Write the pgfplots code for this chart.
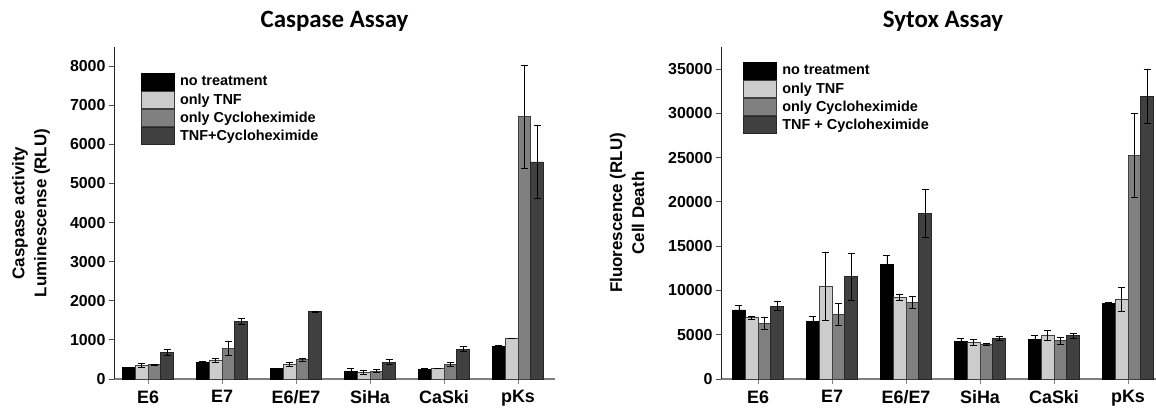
\documentclass[border=0pt]{standalone}
\usepackage{fontspec}
\setmainfont{Liberation Sans}
\newfontfamily\titlefont{Carlito}
\usepackage{pgfplots}
\pgfplotsset{compat=1.18}
\definecolor{cA}{HTML}{000000}
\definecolor{cB}{HTML}{CCCCCC}
\definecolor{cC}{HTML}{808080}
\definecolor{cD}{HTML}{404040}
\pgfplotsset{
 eb/.style={error bars/.cd, y dir=both, y explicit,
   error bar style={black, line width=0.7bp},
   error mark options={rotate=90, mark size=3.5bp, black, line width=0.7bp}},
 mybars/.style={
  scale only axis, height=332bp, anchor=south west,
  axis lines=left, axis line style={-},
  x axis line style={draw=black!50, line width=1.3bp},
  y axis line style={draw=black!85, line width=0.8bp},
  ybar=0pt, bar width=12.7bp,
  ymin=0, scaled y ticks=false,
  xtick={0,...,5}, xticklabels={E6,E7,E6/E7,SiHa,CaSki,pKs},
  tick align=outside, major tick length=5bp,
  x tick style={draw=black!50, line width=1bp},
  y tick style={draw=black!70, line width=0.8bp},
  xticklabel style={font=\fontsize{18}{20}\selectfont\bfseries, yshift=-3bp},
  yticklabel style={font=\fontsize{16}{18}\selectfont\bfseries},
  /pgf/number format/assume math mode=true,
  /pgf/number format/set thousands separator={},
  title style={font=\fontsize{25}{28}\selectfont\titlefont\bfseries, at={(0.5,1)}, anchor=base, yshift=14bp},
  ylabel style={font=\fontsize{17}{22}\selectfont\bfseries, align=center, anchor=center},
  legend style={draw=none, fill=none, inner sep=0pt, outer sep=0pt, anchor=north west,
    font=\fontsize{14.5}{16}\selectfont\bfseries, row sep=0.5bp,
    nodes={inner ysep=0pt, inner xsep=2.5bp},
    /tikz/every odd column/.append style={column sep=3bp}},
  legend cell align=left,
  legend image code/.code={\draw[##1] (0bp,-8.5bp) rectangle (33bp,8.5bp);},
  clip=false,
 }
}
\begin{document}
\begin{tikzpicture}
\useasboundingbox (0,0) rectangle (1156bp,412bp);
% Caspase
\begin{axis}[mybars, at={(114bp,33bp)}, width=441bp,
  xmin=-0.46, xmax=5.5, ymax=8490,
  ytick={0,1000,...,8000},
  title={Caspase Assay},
  ylabel={Caspase activity\\Luminescense (RLU)},
  ylabel style={at={([xshift=-83bp]rel axis cs:0,0.5)}},
  legend style={at={(0.061,0.922)}}]
\addplot[fill=cA, draw=black, line width=0.6bp, eb] coordinates {
 (0,298) +- (0,10) (1,434) +- (0,10) (2,273) +- (0,10) (3,204) +- (0,60) (4,247) +- (0,15) (5,843) +- (0,20)};
\addplot[fill=cB, draw=black!75, line width=0.6bp, eb] coordinates {
 (0,349) +- (0,50) (1,477) +- (0,45) (2,383) +- (0,50) (3,179) +- (0,50) (4,273) +- (0,10) (5,1039) +- (0,12)};
\addplot[fill=cC, draw=black!75, line width=0.6bp, eb] coordinates {
 (0,366) +- (0,20) (1,784) +- (0,170) (2,494) +- (0,45) (3,204) +- (0,30) (4,375) +- (0,55) (5,6712) +- (0,1315)};
\addplot[fill=cD, draw=black!85, line width=0.6bp, eb] coordinates {
 (0,681) +- (0,70) (1,1465) +- (0,75) (2,1720) +- (0,15) (3,434) +- (0,60) (4,767) +- (0,70) (5,5554) +- (0,930)};
\legend{no treatment, only TNF, only Cycloheximide, TNF+Cycloheximide}
\end{axis}
% Sytox
\begin{axis}[mybars, at={(721bp,33bp)}, width=444bp,
  xmin=-0.5, xmax=5.5, ymax=37480,
  ytick={0,5000,...,35000},
  title={Sytox Assay},
  ylabel={Fluorescence (RLU)\\Cell Death},
  ylabel style={at={([xshift=-94bp]rel axis cs:0,0.5)}},
  legend style={at={(0.05,0.955)}}]
\addplot[fill=cA, draw=black, line width=0.6bp, eb] coordinates {
 (0,7800) +- (0,500) (1,6470) +- (0,650) (2,12930) +- (0,1000) (3,4250) +- (0,300) (4,4510) +- (0,400) (5,8530) +- (0,150)};
\addplot[fill=cB, draw=black!75, line width=0.6bp, eb] coordinates {
 (0,6920) +- (0,200) (1,10450) +- (0,3800) (2,9210) +- (0,350) (3,4135) +- (0,340) (4,4890) +- (0,560) (5,9020) +- (0,1350)};
\addplot[fill=cC, draw=black!75, line width=0.6bp, eb] coordinates {
 (0,6280) +- (0,640) (1,7290) +- (0,1200) (2,8650) +- (0,700) (3,3910) +- (0,80) (4,4320) +- (0,400) (5,25260) +- (0,4770)};
\addplot[fill=cD, draw=black!85, line width=0.6bp, eb] coordinates {
 (0,8230) +- (0,500) (1,11580) +- (0,2650) (2,18720) +- (0,2700) (3,4620) +- (0,230) (4,4890) +- (0,250) (5,31880) +- (0,3030)};
\legend{no treatment, only TNF, only Cycloheximide, TNF + Cycloheximide}
\end{axis}
\end{tikzpicture}
\end{document}
